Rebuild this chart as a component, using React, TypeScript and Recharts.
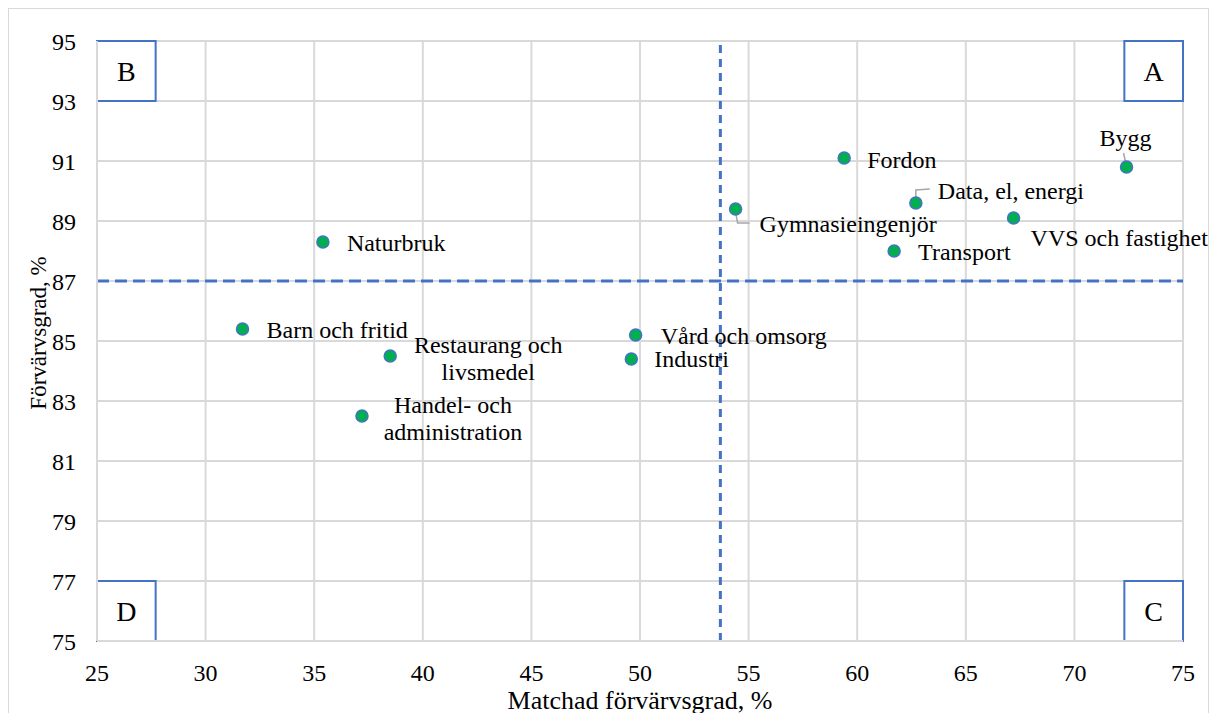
import React from 'react';
import {
  ScatterChart,
  Scatter,
  XAxis,
  YAxis,
  CartesianGrid,
  ReferenceLine,
  ReferenceArea,
  Label,
} from 'recharts';

// Programområden
const programs = [
  'Naturbruk',
  'Barn och fritid',
  'Restaurang och livsmedel',
  'Handel- och administration',
  'Vård och omsorg',
  'Industri',
  'Gymnasieingenjör',
  'Fordon',
  'Data, el, energi',
  'Transport',
  'VVS och fastighet',
  'Bygg',
];
// Matchad förvärvsgrad, %
const matched = [35.4, 31.7, 38.5, 37.2, 49.8, 49.6, 54.4, 59.4, 62.7, 61.7, 67.2, 72.4];
// Förvärvsgrad, %
const employed = [88.3, 85.4, 84.5, 82.5, 85.2, 84.4, 89.4, 91.1, 89.6, 88.0, 89.1, 90.8];

const xTicks = [25, 30, 35, 40, 45, 50, 55, 60, 65, 70, 75];
const yTicks = [75, 77, 79, 81, 83, 85, 87, 89, 91, 93, 95];

const avgMatched = 53.7;
const avgEmployed = 87;

const data = programs.map((name, i) => ({ name, x: matched[i], y: employed[i] }));

const BLUE = '#4472C4';
const GREEN = '#00B050';
const GRID = '#d9d9d9';
const FONT = '"Liberation Serif", "Times New Roman", serif';

// where each label sits relative to its dot (text lines, anchor, leader line)
type LabelPos = {
  dx: number;
  dy: number;
  anchor?: 'start' | 'middle';
  lines?: string[];
  leader?: [number, number][];
};
const labelPos: Record<string, LabelPos> = {
  Naturbruk: { dx: 24, dy: 1 },
  'Barn och fritid': { dx: 24, dy: 1 },
  'Restaurang och livsmedel': { dx: 98, dy: -11, anchor: 'middle', lines: ['Restaurang och', 'livsmedel'] },
  'Handel- och administration': { dx: 91, dy: -11, anchor: 'middle', lines: ['Handel- och', 'administration'] },
  'Vård och omsorg': { dx: 25, dy: 1 },
  Industri: { dx: 23, dy: 0 },
  Gymnasieingenjör: { dx: 24, dy: 15, leader: [[0, 3], [2, 14], [14, 14]] },
  Fordon: { dx: 23, dy: 2 },
  'Data, el, energi': { dx: 22, dy: -12, leader: [[0, -5], [0, -13], [14, -14]] },
  Transport: { dx: 24, dy: 1 },
  'VVS och fastighet': { dx: 17, dy: 20 },
  Bygg: { dx: -1, dy: -29, anchor: 'middle', leader: [[-3, -14], [-1, -5]] },
};

function Dot(props: any) {
  const { cx, cy, payload } = props;
  const pos = labelPos[payload.name] || { dx: 20, dy: 0 };
  const lines = pos.lines || [payload.name];
  return (
    <g>
      {pos.leader && (
        <polyline
          points={pos.leader.map(([a, b]) => `${cx + a},${cy + b}`).join(' ')}
          fill="none"
          stroke="#a6a6a6"
          strokeWidth={1.5}
        />
      )}
      <circle cx={cx} cy={cy} r={6} fill={GREEN} stroke={BLUE} strokeWidth={1.5} />
      {lines.map((line, i) => (
        <text
          key={line}
          x={cx + pos.dx}
          y={cy + pos.dy + i * 27}
          textAnchor={pos.anchor || 'start'}
          dominantBaseline="central"
          fontSize={24}
          fill="#000"
          fontFamily={FONT}
        >
          {line}
        </text>
      ))}
    </g>
  );
}

function YTitle(props: any) {
  const { x, y, height } = props.viewBox;
  const tx = x + 29;
  const ty = y + height / 2 - 8;
  return (
    <text
      x={tx}
      y={ty}
      transform={`rotate(-90, ${tx}, ${ty})`}
      textAnchor="middle"
      dominantBaseline="central"
      fontSize={23}
      fill="#000"
      fontFamily={FONT}
    >
      Förvärvsgrad, %
    </text>
  );
}

const boxLabel = (value: string) => ({
  value,
  position: 'center' as const,
  fontSize: 28,
  fill: '#000',
  fontFamily: FONT,
});

const tickStyle = { fill: '#000', fontSize: 24, fontFamily: FONT, style: { fontFamily: FONT } };

export default function App() {
  return (
    <div style={{ width: 1199, height: 710, border: `1px solid ${GRID}`, fontFamily: FONT }}>
      <ScatterChart
        width={1199}
        height={710}
        margin={{ top: 32, right: 25, left: 0, bottom: 8 }}
        style={{ fontFamily: FONT }}
      >
        <CartesianGrid stroke={GRID} strokeWidth={2} />
        <XAxis
          type="number"
          dataKey="x"
          domain={[25, 75]}
          ticks={xTicks}
          interval={0}
          height={70}
          tickSize={0}
          tickMargin={23}
          axisLine={{ stroke: GRID, strokeWidth: 2 }}
          tick={tickStyle}
          label={{
            value: 'Matchad förvärvsgrad, %',
            position: 'insideBottom',
            offset: 2,
            fontSize: 26,
            fill: '#000',
            fontFamily: FONT,
          }}
        />
        <YAxis
          type="number"
          dataKey="y"
          domain={[75, 95]}
          ticks={yTicks}
          interval={0}
          width={88}
          tickSize={0}
          tickMargin={21}
          axisLine={{ stroke: GRID, strokeWidth: 2 }}
          tick={tickStyle}
        >
          <Label content={YTitle} />
        </YAxis>
        <ReferenceLine y={avgEmployed} stroke={BLUE} strokeWidth={3} strokeDasharray="12 6" />
        <ReferenceLine x={avgMatched} stroke={BLUE} strokeWidth={3} strokeDasharray="8 6" />
        <ReferenceArea x1={25} x2={27.7} y1={93} y2={95} fill="#fff" fillOpacity={1} stroke={BLUE} strokeWidth={2} label={boxLabel('B')} />
        <ReferenceArea x1={72.3} x2={75} y1={93} y2={95} fill="#fff" fillOpacity={1} stroke={BLUE} strokeWidth={2} label={boxLabel('A')} />
        <ReferenceArea x1={25} x2={27.7} y1={75} y2={77} fill="#fff" fillOpacity={1} stroke={BLUE} strokeWidth={2} label={boxLabel('D')} />
        <ReferenceArea x1={72.3} x2={75} y1={75} y2={77} fill="#fff" fillOpacity={1} stroke={BLUE} strokeWidth={2} label={boxLabel('C')} />
        <Scatter data={data} shape={Dot} isAnimationActive={false} />
      </ScatterChart>
    </div>
  );
}
